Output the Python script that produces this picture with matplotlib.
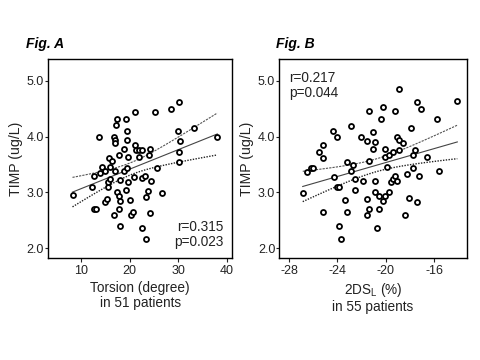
import matplotlib
matplotlib.use('Agg')
import matplotlib.pyplot as plt
import numpy as np

plt.rcParams['font.family'] = ['Liberation Sans', 'DejaVu Sans']
plt.rcParams['axes.unicode_minus'] = False

# Fig. A: torsion (degree) vs TIMP (ug/L)
torsion = [8.2, 12.3, 12.7, 12.6, 13.0, 13.7, 13.9, 14.2, 14.9, 15.0,
           15.4, 15.6, 15.6, 15.7, 15.9, 16.0, 16.4, 16.7, 16.8, 16.9,
           16.9, 16.9, 17.1, 17.3, 17.4, 17.7, 17.8, 17.9, 18.0, 18.0,
           18.1, 18.8, 18.9, 19.2, 19.2, 19.4, 19.4, 19.4, 19.7, 19.7,
           20.1, 20.2, 20.6, 20.9, 21.1, 21.2, 21.3, 21.9, 22.0, 22.5,
           22.5, 22.6, 23.2, 23.4, 23.4, 23.7, 24.0, 24.1, 24.2, 24.4,
           25.2, 25.7, 26.6, 28.5, 30.1, 30.0, 30.4, 30.2, 30.2, 33.3,
           38.1]
timp_a = [2.95, 3.10, 3.30, 2.70, 2.70, 3.99, 3.34, 3.45, 3.38, 2.82,
          2.89, 3.10, 3.19, 3.61, 3.24, 3.45, 3.56, 2.60, 4.00, 3.94,
          3.89, 3.39, 4.20, 4.32, 3.01, 2.70, 3.67, 2.94, 2.39, 2.85,
          3.22, 3.38, 3.78, 4.31, 3.04, 4.09, 3.94, 3.44, 3.19, 3.64,
          2.86, 2.59, 2.65, 3.27, 3.84, 4.44, 3.76, 3.64, 3.76, 3.75,
          3.25, 2.36, 3.30, 2.16, 2.91, 3.02, 3.66, 2.63, 3.78, 3.21,
          4.44, 3.44, 2.99, 4.50, 4.61, 4.10, 3.92, 3.73, 3.55, 4.15,
          4.00]

# Fig. B: 2DSL (%) vs TIMP (ug/L)
dsl = [-26.87, -26.51, -26.21, -25.99, -25.52, -25.16, -25.16, -25.16, -24.34, -24.31,
       -24.00, -24.04, -23.87, -23.84, -23.68, -23.35, -23.18, -23.18, -22.85, -22.85,
       -22.69, -22.52, -22.52, -22.03, -21.86, -21.53, -21.53, -21.53, -21.37, -21.37,
       -21.37, -21.04, -21.04, -20.87, -20.87, -20.87, -20.71, -20.54, -20.54, -20.38,
       -20.21, -20.21, -20.04, -20.04, -20.04, -19.88, -19.71, -19.71, -19.55, -19.38,
       -19.38, -19.22, -19.22, -19.05, -19.05, -18.89, -18.89, -18.89, -18.56, -18.39,
       -18.23, -18.06, -17.90, -17.73, -17.73, -17.57, -17.40, -17.40, -17.24, -17.07,
       -16.58, -15.75, -15.59, -14.10]
timp_b = [2.99, 3.36, 3.44, 3.44, 3.73, 3.84, 3.61, 2.65, 4.10, 3.27,
          4.00, 3.10, 3.09, 2.39, 2.16, 2.86, 2.64, 3.55, 4.19, 3.38,
          3.49, 3.24, 3.04, 3.99, 3.20, 3.92, 2.89, 2.59, 4.45, 3.56,
          2.70, 4.08, 3.78, 3.91, 3.21, 3.01, 2.36, 2.94, 2.70, 4.31,
          4.52, 2.84, 3.78, 3.64, 2.94, 3.45, 3.67, 3.01, 3.19, 3.73,
          3.24, 4.45, 3.30, 3.99, 3.21, 4.85, 3.93, 3.76, 3.89, 2.59,
          3.33, 2.90, 4.15, 3.66, 3.44, 3.75, 4.61, 2.82, 3.30, 4.49,
          3.63, 4.32, 3.38, 4.64]

y_ticks = [2.0, 3.0, 4.0, 5.0]
x_ticks_a = [10, 20, 30, 40]
x_ticks_b = [-28, -24, -20, -16]

TXT = '#222222'


def draw_panel(ax, x, y, xlim, xticks):
    x = np.asarray(x)
    y = np.asarray(y)
    ax.plot(x, y, 'o', ms=3.6, mfc='white', mec='black', mew=1.3, zorder=3)

    # least squares fit with confidence band
    slope, icpt = np.polyfit(x, y, 1)
    xs = np.linspace(x.min(), x.max(), 100)
    fit = icpt + slope * xs
    n = len(x)
    resid = y - (icpt + slope * x)
    s = np.sqrt(np.sum(resid ** 2) / (n - 2))
    se = s * np.sqrt(1 / n + (xs - x.mean()) ** 2 / np.sum((x - x.mean()) ** 2))
    ax.plot(xs, fit, color='#444444', lw=0.8, zorder=2)
    ax.plot(xs, fit + 1.7 * se, color='#555555', lw=0.8, ls=(0, (2, 1)), zorder=2)
    ax.plot(xs, fit - 1.7 * se, color='#222222', lw=1.0, ls=(0, (1, 1)), zorder=2)

    ax.set_xlim(*xlim)
    ax.set_ylim(1.82, 5.38)
    ax.set_xticks(xticks)
    ax.set_yticks(y_ticks)
    ax.set_yticklabels([f'{t:.1f}' for t in y_ticks])
    ax.tick_params(labelsize=9, width=0.8, direction='out', colors=TXT)
    ax.tick_params(axis='x', length=3, pad=2)
    ax.tick_params(axis='y', length=2, pad=1)
    for sp in ax.spines.values():
        sp.set_linewidth(1.0)
    ax.set_ylabel('TIMP (ug/L)', fontsize=10.2, labelpad=3, color=TXT)


fig = plt.figure(figsize=(4.8, 3.6), dpi=100)
ax_a = fig.add_axes([0.1006, 0.2825, 0.3834, 0.5525])
ax_b = fig.add_axes([0.582, 0.2825, 0.3904, 0.5525])

draw_panel(ax_a, torsion, timp_a, (3.2, 41.2), x_ticks_a)
draw_panel(ax_b, dsl, timp_b, (-28.8, -13.32), x_ticks_b)

ax_a.set_xlabel('Torsion (degree)\nin 51 patients', fontsize=9.8, linespacing=1.05,
                labelpad=3, color=TXT)
ax_b.set_xlabel('2DS$_\\mathregular{L}$ (%)\nin 55 patients', fontsize=9.8, linespacing=1.05,
                labelpad=3, color=TXT)

ax_a.text(0.95, 0.12, 'r=0.315\np=0.023', transform=ax_a.transAxes, ha='right',
          va='center', fontsize=9.8, linespacing=1.1, color=TXT)
ax_b.text(0.05, 0.87, 'r=0.217\np=0.044', transform=ax_b.transAxes, ha='left',
          va='center', fontsize=9.8, linespacing=1.1, color=TXT)

fig.text(26 / 480, 1 - 48 / 360, 'Fig. A', fontsize=10, fontweight='bold',
         fontstyle='italic', ha='left', va='baseline')
fig.text(276 / 480, 1 - 48 / 360, 'Fig. B', fontsize=10, fontweight='bold',
         fontstyle='italic', ha='left', va='baseline')

fig.savefig('out.png', dpi=100)
